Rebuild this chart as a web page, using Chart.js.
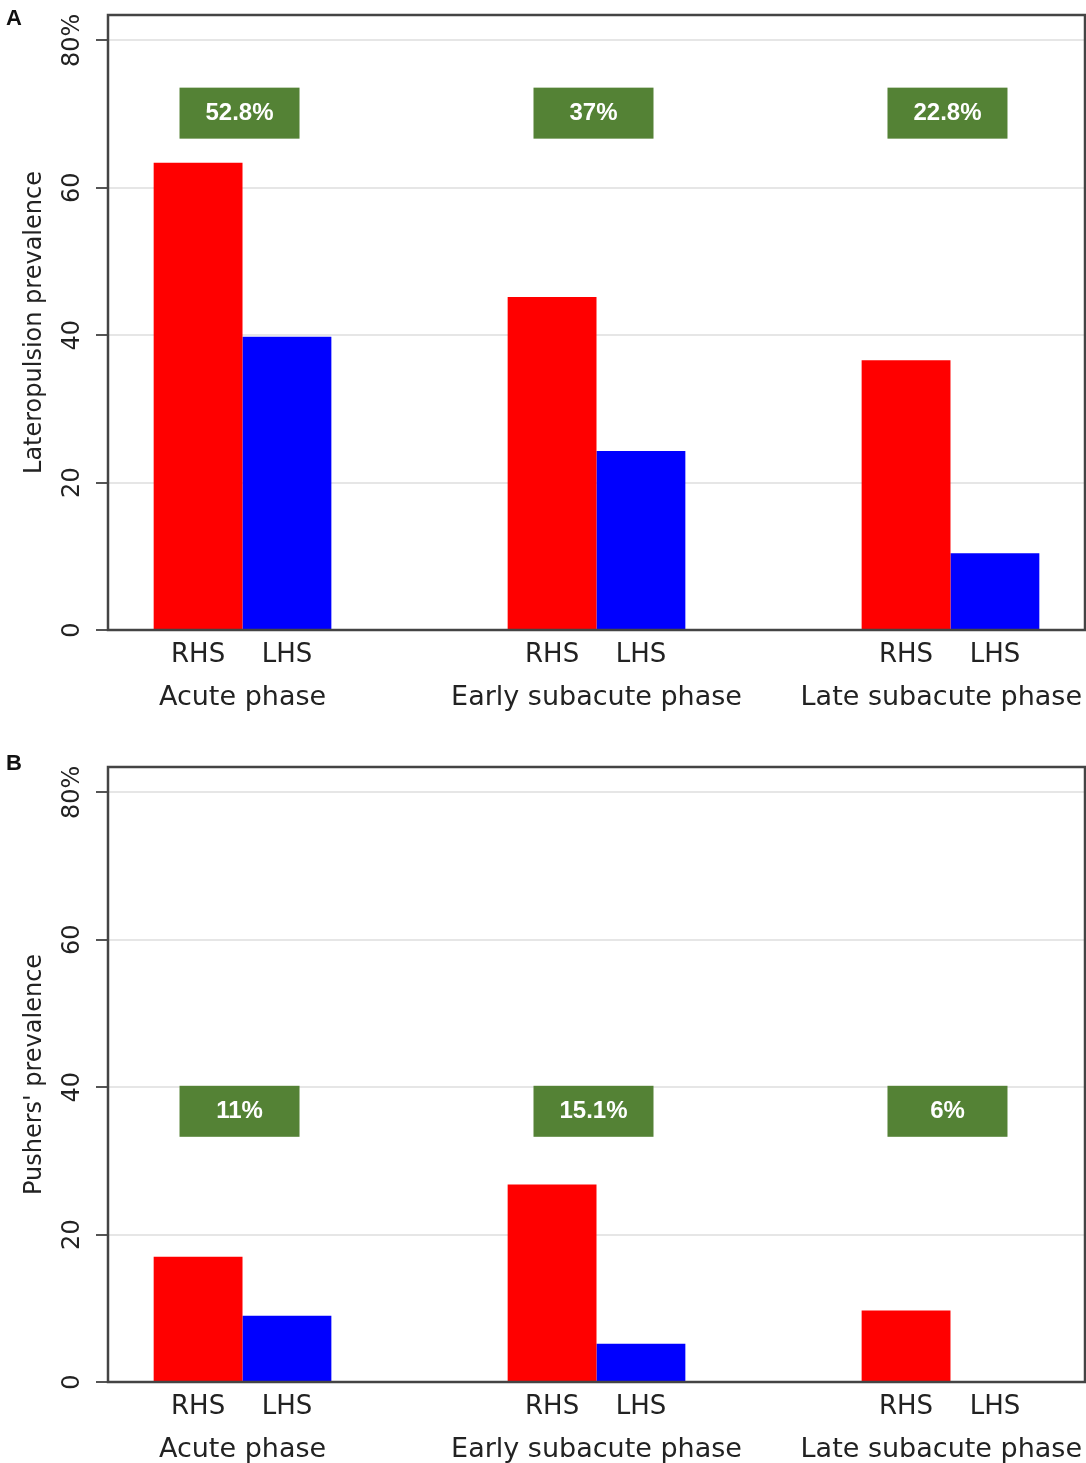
<!DOCTYPE html>
<html>
<head>
<meta charset="utf-8">
<script src="https://cdn.jsdelivr.net/npm/chart.js@4"></script>
<style>
  html, body { margin: 0; padding: 0; background: #fff; }
  body { width: 1086px; height: 1463px; overflow: hidden; position: relative; }
  .panel { position: absolute; left: 0; width: 1086px; height: 752px; }
  .letter { position: absolute; left: 6px; font: bold 22px "Liberation Sans", Arial, sans-serif; color: #111; }
</style>
</head>
<body>
<div class="panel" style="top:0"><canvas id="chartA"></canvas></div>
<div class="panel" style="top:752px"><canvas id="chartB"></canvas></div>
<div class="letter" style="top:5px">A</div>
<div class="letter" style="top:750px">B</div>
<script>
// categories and tick labels
const phases = ['Acute phase', 'Early subacute phase', 'Late subacute phase'];
const sides = ['RHS', 'LHS'];
const yTickValues = [0, 20, 40, 60, 80];
const yTickLabels = ['0', '20', '40', '60', '80%'];

// panel A - lateropulsion
const rhsLatero = [63.4, 45.2, 36.6];
const lhsLatero = [39.8, 24.3, 10.4];
const overallLatero = ['52.8%', '37%', '22.8%'];

// panel B - pushers
const rhsPusher = [17.0, 26.8, 9.7];
const lhsPusher = [9.0, 5.2, 0];
const overallPusher = ['11%', '15.1%', '6%'];

const FONT = '"DejaVu Sans", Verdana, sans-serif';
const catPct = 0.502;          // share of a group taken by the two bars
const barShift = catPct / 4;   // centre of each bar relative to group centre
const X_MIN = -0.38, X_MAX = 2.38;

// green boxes with the overall prevalence + frame around the plot
const panelDecor = {
    id: 'panelDecor',
    afterDatasetsDraw(chart, args, opts) {
        const { ctx, chartArea: a, scales: { x, y } } = chart;
        ctx.save();
        opts.labels.forEach((txt, i) => {
            const cx = x.getPixelForValue(i) - 3;
            const cy = y.getPixelForValue(opts.level);
            ctx.fillStyle = '#548235';
            ctx.fillRect(cx - 60, cy - 25, 120, 51);
            ctx.fillStyle = '#fff';
            ctx.font = 'bold 24px "Liberation Sans", Arial, sans-serif';
            ctx.textAlign = 'center';
            ctx.textBaseline = 'middle';
            ctx.fillText(txt, cx, cy + 1);
        });
        ctx.strokeStyle = '#444';
        ctx.lineWidth = 2.5;
        ctx.strokeRect(a.left, a.top, a.right - a.left, a.bottom - a.top);
        ctx.restore();
    }
};

const noPad = s => { s.paddingLeft = 0; s.paddingRight = 0; s.paddingTop = 0; s.paddingBottom = 0; };

function makePanel(id, title, rhs, lhs, overall, level) {
    const xRange = { type: 'linear', min: X_MIN, max: X_MAX, offset: false, bounds: 'data', position: 'bottom' };
    const phaseFont = { family: FONT, size: 27 };
    return new Chart(document.getElementById(id), {
        type: 'bar',
        data: {
            datasets: [
                { label: 'RHS', xAxisID: 'x', data: rhs.map((v, i) => ({ x: i, y: v })), backgroundColor: '#ff0000',
                  categoryPercentage: catPct, barPercentage: 1, borderWidth: 0 },
                { label: 'LHS', xAxisID: 'x', data: lhs.map((v, i) => ({ x: i, y: v })), backgroundColor: '#0000ff',
                  categoryPercentage: catPct, barPercentage: 1, borderWidth: 0 }
            ]
        },
        options: {
            responsive: true,
            maintainAspectRatio: false,
            animation: false,
            layout: { padding: { top: 15, right: 1, left: 0, bottom: 0 } },
            plugins: {
                legend: { display: false },
                tooltip: { enabled: false },
                panelDecor: { labels: overall, level: level }
            },
            scales: {
                // group axis used by the bars (labels drawn by the axes below)
                x: {
                    ...xRange,
                    display: false,
                    afterBuildTicks: s => { s.ticks = phases.map((_, i) => ({ value: i })); }
                },
                // side labels under each bar
                xs: {
                    ...xRange,
                    weight: 0,
                    grid: { display: false, drawTicks: false },
                    border: { display: false },
                    afterBuildTicks: s => {
                        s.ticks = phases.flatMap((p, i) => sides.map((_, k) => ({ value: i + (k ? 1 : -1) * barShift })));
                    },
                    afterFit: s => { s.height = 48; noPad(s); },
                    ticks: {
                        autoSkip: false, maxRotation: 0, padding: 10, color: '#222',
                        font: { family: FONT, size: 26 },
                        callback: (v, idx) => sides[idx % 2]
                    }
                },
                // phase names, last one kept inside the canvas
                xp: {
                    ...xRange,
                    weight: 1,
                    grid: { display: false, drawTicks: false },
                    border: { display: false },
                    afterBuildTicks: s => {
                        const ctx = s.chart.ctx;
                        ctx.save();
                        ctx.font = `${phaseFont.size}px ${phaseFont.family}`;
                        const unitPx = (s.width || 977) / (X_MAX - X_MIN);
                        s.ticks = phases.map((p, i) => {
                            const half = ctx.measureText(p).width / 2 + 3;
                            return { value: Math.min(i, X_MAX - half / unitPx) };
                        });
                        ctx.restore();
                    },
                    afterFit: s => { s.height = 74; noPad(s); },
                    ticks: {
                        autoSkip: false, maxRotation: 0, padding: 4, color: '#222',
                        font: phaseFont,
                        callback: (v, idx) => phases[idx]
                    }
                },
                y: {
                    min: 0,
                    max: 83.45,
                    afterBuildTicks: s => { s.ticks = yTickValues.map(v => ({ value: v })); },
                    afterFit: s => { s.width = 108; noPad(s); },
                    grid: { color: '#e6e6e6', lineWidth: 2, tickColor: '#555', tickLength: 12, tickWidth: 2 },
                    border: { display: false },
                    ticks: {
                        minRotation: 90, maxRotation: 90, crossAlign: 'center', padding: -3, color: '#222',
                        font: { family: FONT, size: 24 },
                        callback: (v, idx) => yTickLabels[idx]
                    },
                    title: {
                        display: true, text: title, color: '#222',
                        font: { family: FONT, size: 24 },
                        padding: { top: 20, bottom: 0 }
                    }
                }
            }
        },
        plugins: [panelDecor]
    });
}

makePanel('chartA', 'Lateropulsion prevalence', rhsLatero, lhsLatero, overallLatero, 70.2);
makePanel('chartB', "Pushers' prevalence", rhsPusher, lhsPusher, overallPusher, 36.8);
</script>
</body>
</html>
